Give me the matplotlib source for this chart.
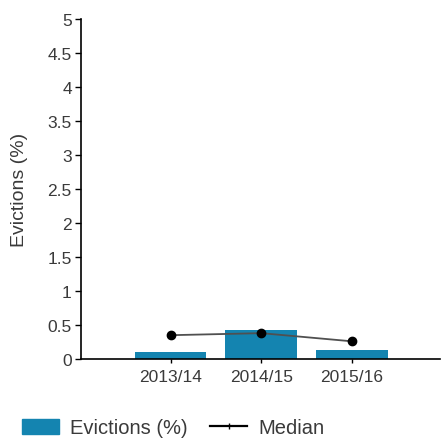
import matplotlib
matplotlib.use("Agg")
import matplotlib.pyplot as plt
from matplotlib.patches import Patch
from matplotlib.lines import Line2D

years = ["2013/14", "2014/15", "2015/16"]
evictions = [0.10, 0.43, 0.13]
median = [0.35, 0.38, 0.26]
y_ticks = [0, 0.5, 1, 1.5, 2, 2.5, 3, 3.5, 4, 4.5, 5]
y_tick_labels = ["0", "0.5", "1", "1.5", "2", "2.5", "3", "3.5", "4", "4.5", "5"]

plt.rcParams["font.family"] = ["Liberation Sans", "DejaVu Sans"]

bar_color = "#1484b0"
text_color = "#3a3a3a"

fig = plt.figure(figsize=(4.42, 4.39), dpi=100)
ax = fig.add_axes([0.183, 0.18, 0.812, 0.774])

x = list(range(len(years)))
ax.bar(x, evictions, width=0.79, color=bar_color, zorder=2)
ax.plot(x, median, color="#505050", linewidth=1.3, marker="o",
        markersize=6, markerfacecolor="black", markeredgecolor="black", zorder=3)

ax.set_xlim(-0.99, 2.97)
ax.set_ylim(0, 5)
ax.set_xticks(x)
ax.set_xticklabels(years)
ax.set_yticks(y_ticks)
ax.set_yticklabels(y_tick_labels)

for side in ("top", "right"):
    ax.spines[side].set_visible(False)
for side in ("left", "bottom"):
    ax.spines[side].set_color("black")
    ax.spines[side].set_linewidth(1.2)

ax.tick_params(axis="y", direction="out", length=4, width=1, colors="black",
               labelcolor=text_color, labelsize=12.5, pad=2.5)
ax.tick_params(axis="x", direction="out", length=3, width=1, colors="black",
               labelcolor=text_color, labelsize=12.5, pad=4)

ax.set_ylabel("Evictions (%)", color=text_color, fontsize=14, labelpad=14)

handles = [
    Patch(facecolor=bar_color, edgecolor=bar_color, label="Evictions (%)"),
    Line2D([0], [0], color="black", linewidth=1.6, marker="|", markersize=4,
           label="Median"),
]
fig.legend(handles=handles, loc="center left", bbox_to_anchor=(0.05, 0.023),
           ncol=2, frameon=False, fontsize=14.5, handlelength=1.85,
           handleheight=0.75, columnspacing=1.1, handletextpad=0.55,
           labelcolor=text_color, borderpad=0, borderaxespad=0)

fig.savefig("out.png", dpi=100, facecolor="white")
